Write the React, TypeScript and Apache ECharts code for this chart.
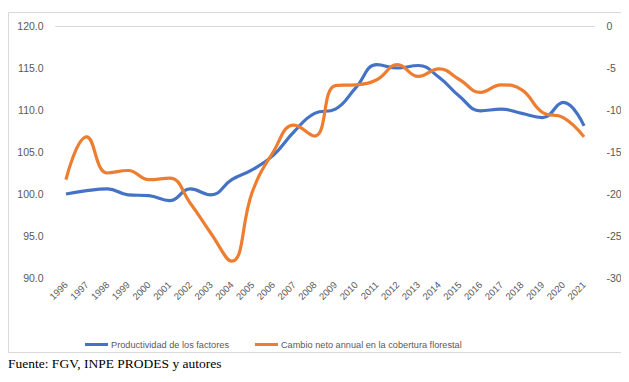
import React, { useEffect, useRef } from "react";
import * as echarts from "echarts";

const years = [
  "1996", "1997", "1998", "1999", "2000", "2001", "2002", "2003", "2004", "2005",
  "2006", "2007", "2008", "2009", "2010", "2011", "2012", "2013", "2014", "2015",
  "2016", "2017", "2018", "2019", "2020", "2021",
];

const productividad = [
  100.0, 100.4, 100.6, 99.9, 99.8, 99.2, 100.6, 99.9, 101.7, 102.9,
  104.6, 107.4, 109.6, 110.1, 112.7, 115.4, 115.0, 115.3, 113.9, 111.6,
  109.9, 110.1, 109.6, 109.1, 110.9, 108.1,
];

const cambioNeto = [
  -18.3, -13.2, -17.5, -17.2, -18.3, -18.1, -21.1, -24.7, -28.0, -19.7,
  -15.0, -11.8, -13.1, -7.1, -7.0, -6.4, -4.6, -6.0, -5.1, -6.4,
  -7.9, -7.0, -7.6, -10.3, -10.9, -13.2,
];

const seriesNames = [
  "Productividad de los factores",
  "Cambio neto annual en la cobertura florestal",
];

const sourceNote = "Fuente: FGV, INPE PRODES y autores";

const labelColor = "#595959";
const sansFont = "'Liberation Sans', Arial, sans-serif";

export default function App() {
  const ref = useRef<HTMLDivElement>(null);

  useEffect(() => {
    if (!ref.current) return;
    const chart = echarts.init(ref.current, undefined, { renderer: "svg" });
    chart.setOption({
      animation: false,
      backgroundColor: "#ffffff",
      grid: { left: 47.6, right: 34.6, top: 18, bottom: 104, containLabel: false },
      legend: {
        left: 72,
        top: 327,
        itemWidth: 23,
        itemHeight: 3,
        itemGap: 26,
        icon: "rect",
        textStyle: { color: labelColor, fontSize: 9.2, fontFamily: sansFont, padding: [0, 0, 0, -2] },
        data: seriesNames,
      },
      xAxis: {
        type: "category",
        data: years,
        boundaryGap: true,
        axisLine: { show: true, lineStyle: { color: "#d9d9d9", width: 1 } },
        axisTick: { show: false },
        axisLabel: {
          rotate: 45,
          interval: 0,
          margin: 5,
          color: labelColor,
          fontSize: 9.5,
          fontFamily: sansFont,
        },
        splitLine: { show: false },
      },
      yAxis: [
        {
          type: "value",
          min: 90,
          max: 120,
          interval: 5,
          axisLine: { show: false },
          axisTick: { show: false },
          splitLine: { show: false },
          axisLabel: {
            margin: 12,
            color: labelColor,
            fontSize: 10.5,
            fontFamily: sansFont,
            formatter: (v: number) => v.toFixed(1),
          },
        },
        {
          type: "value",
          min: -30,
          max: 0,
          interval: 5,
          position: "right",
          axisLine: { show: false },
          axisTick: { show: false },
          splitLine: { show: false },
          axisLabel: {
            margin: 12,
            color: labelColor,
            fontSize: 10.5,
            fontFamily: sansFont,
          },
        },
      ],
      series: [
        {
          name: seriesNames[0],
          type: "line",
          data: productividad,
          yAxisIndex: 0,
          smooth: 0.45,
          showSymbol: false,
          symbol: "none",
          lineStyle: { color: "#4472C4", width: 3.2 },
          itemStyle: { color: "#4472C4" },
        },
        {
          name: seriesNames[1],
          type: "line",
          data: cambioNeto,
          yAxisIndex: 1,
          smooth: 0.45,
          showSymbol: false,
          symbol: "none",
          lineStyle: { color: "#ED7D31", width: 3.2 },
          itemStyle: { color: "#ED7D31" },
        },
      ],
      graphic: [
        {
          type: "polyline",
          silent: true,
          shape: { points: [[617.5, 4.5], [0.5, 4.5], [0.5, 344.5], [617.5, 344.5]] },
          style: { stroke: "#d9d9d9", lineWidth: 1, fill: null },
        },
        {
          type: "line",
          silent: true,
          shape: { x1: 619.5, y1: 5, x2: 619.5, y2: 22 },
          style: { stroke: "#000000", lineWidth: 1 },
        },
        {
          type: "polyline",
          silent: true,
          shape: { points: [[619.5, 374], [619.5, 364.5], [622, 364.5]] },
          style: { stroke: "#7f7f7f", lineWidth: 1, fill: null },
        },
        {
          type: "text",
          left: 0,
          top: 348.5,
          style: {
            text: sourceNote,
            fill: "#000000",
            fontSize: 13.5,
            fontWeight: "normal",
            fontFamily: "'Liberation Serif', 'Times New Roman', serif",
          },
        },
      ],
    });
    return () => chart.dispose();
  }, []);

  return <div ref={ref} style={{ width: 621, height: 374 }} />;
}
